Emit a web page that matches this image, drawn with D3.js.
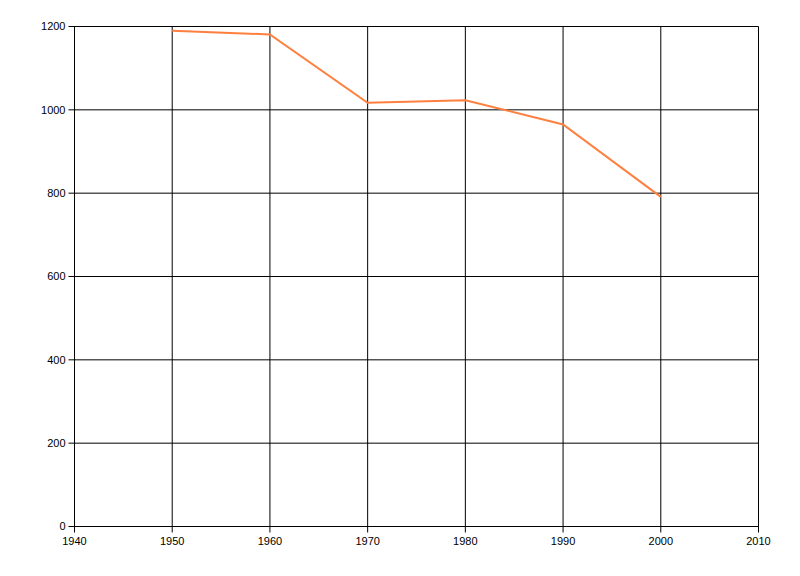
<!DOCTYPE html>
<html><head><meta charset="utf-8">
<script src="https://cdn.jsdelivr.net/npm/d3@7"></script>
<style>body{margin:0;background:#fff;} text{font-family:"Liberation Sans",Arial,sans-serif;font-size:11px;fill:#000;}</style>
</head><body>
<svg id="c" width="800" height="576"></svg>
<script>
const years = [1950, 1960, 1970, 1980, 1990, 2000];
const values = [1190, 1181, 1017, 1023, 965, 791];
const xTicks = [1940, 1950, 1960, 1970, 1980, 1990, 2000, 2010];
const yTicks = [0, 200, 400, 600, 800, 1000, 1200];

const svg = d3.select("#c");
const x = d3.scaleLinear().domain([1940, 2010]).range([74.5, 758.5]);
const y = d3.scaleLinear().domain([0, 1200]).range([526.5, 26.5]);

// grid
svg.append("g").selectAll("line").data(xTicks).join("line")
  .attr("x1", d => x(d)).attr("x2", d => x(d)).attr("y1", y(1200)).attr("y2", y(0) + 6)
  .attr("stroke", "#000").attr("stroke-width", 1);
svg.append("g").selectAll("line").data(yTicks).join("line")
  .attr("x1", x(1940) - 6).attr("x2", x(2010)).attr("y1", d => y(d)).attr("y2", d => y(d))
  .attr("stroke", "#000").attr("stroke-width", 1);

// labels
svg.append("g").selectAll("text").data(yTicks).join("text")
  .attr("x", x(1940) - 9).attr("y", d => y(d)).attr("dy", "0.35em")
  .attr("text-anchor", "end").text(d => d);
svg.append("g").selectAll("text").data(xTicks).join("text")
  .attr("x", d => x(d)).attr("y", y(0) + 18)
  .attr("text-anchor", "middle").text(d => d);

// line
const line = d3.line().x((d, i) => x(years[i])).y(d => y(d));
svg.append("path").datum(values).attr("d", line)
  .attr("fill", "none").attr("stroke", "#ff7f3f").attr("stroke-width", 2);
</script>
</body></html>
